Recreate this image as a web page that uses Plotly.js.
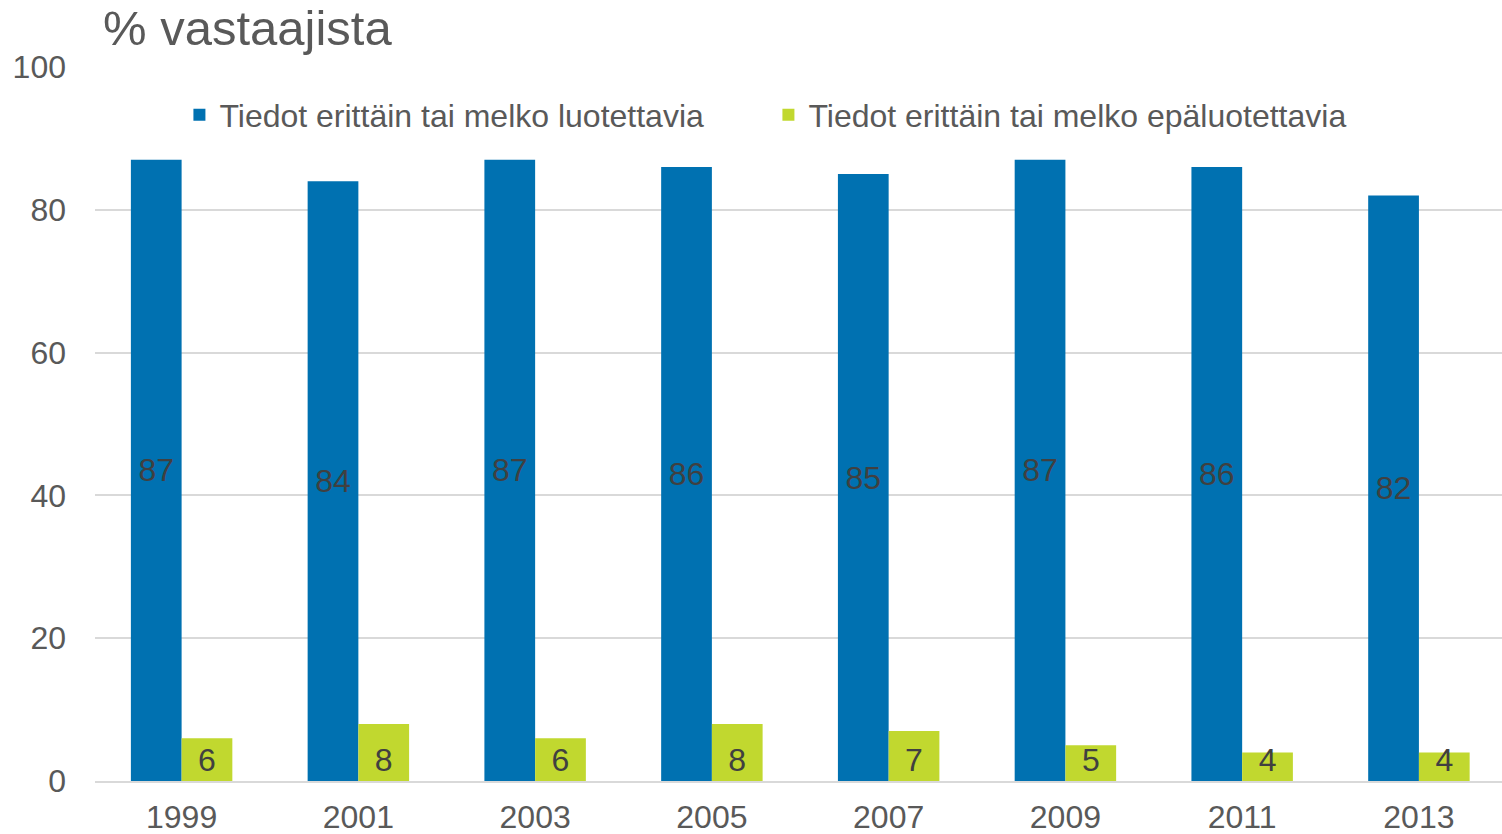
<!DOCTYPE html>
<html>
<head>
<meta charset="utf-8">
<script src="https://cdn.plot.ly/plotly-3.0.1.min.js"></script>
<style>
html,body{margin:0;padding:0;background:#fff;}
#chart{width:1502px;height:834px;}
</style>
</head>
<body>
<div id="chart"></div>
<script>
var years = ["1999","2001","2003","2005","2007","2009","2011","2013"];
var reliable = [87,84,87,86,85,87,86,82];
var unreliable = [6,8,6,8,7,5,4,4];
var seriesNames = ["Tiedot erittäin tai melko luotettavia","Tiedot erittäin tai melko epäluotettavia"];
var titleText = "% vastaajista";

var font = "Liberation Sans, Arial, sans-serif";

var traces = [
  {
    type: "bar", x: years, y: reliable, name: seriesNames[0],
    marker: {color: "#0071B1"},
    text: reliable.map(String), textposition: "inside", insidetextanchor: "middle",
    constraintext: "none", textangle: 0,
    insidetextfont: {family: font, size: 32, color: "#404040"},
    hoverinfo: "x+y+name"
  },
  {
    type: "bar", x: years, y: unreliable, name: seriesNames[1],
    marker: {color: "#C1D82F"},
    text: unreliable.map(String), textposition: "inside", insidetextanchor: "start",
    constraintext: "none", textangle: 0,
    insidetextfont: {family: font, size: 32, color: "#404040"},
    hoverinfo: "x+y+name"
  }
];

var layout = {
  width: 1502, height: 834,
  margin: {l: 95, r: 0, t: 67, b: 53, pad: 0},
  paper_bgcolor: "#fff", plot_bgcolor: "#fff",
  font: {family: font, size: 32, color: "#595959"},
  title: {
    text: titleText, font: {family: font, size: 49, color: "#595959"},
    xref: "container", x: 103/1502, xanchor: "left",
    yref: "container", y: 1 - 28/834, yanchor: "middle"
  },
  barmode: "group", bargap: 0.426, bargroupgap: 0,
  showlegend: true,
  legend: {
    orientation: "h", x: 0.06, xanchor: "left", y: 0.933, yanchor: "middle",
    font: {family: font, size: 32, color: "#595959"},
    bgcolor: "rgba(0,0,0,0)", entrywidth: 544, entrywidthmode: "pixels",
    itemclick: false
  },
  xaxis: {
    type: "category", range: [-0.49, 7.47], showgrid: false, zeroline: false,
    showline: true, linecolor: "#d9d9d9", linewidth: 2,
    ticks: "", tickfont: {family: font, size: 32, color: "#595959"},
    ticklabelstandoff: 7, fixedrange: true
  },
  yaxis: {
    range: [0, 100], dtick: 20, tick0: 0, showgrid: true, gridcolor: "#d9d9d9", gridwidth: 2,
    zeroline: false, showline: false, ticks: "",
    tickfont: {family: font, size: 32, color: "#595959"},
    ticklabelstandoff: 28, fixedrange: true
  }
};

Plotly.newPlot("chart", traces, layout, {displayModeBar: false, responsive: false});
</script>
</body>
</html>
